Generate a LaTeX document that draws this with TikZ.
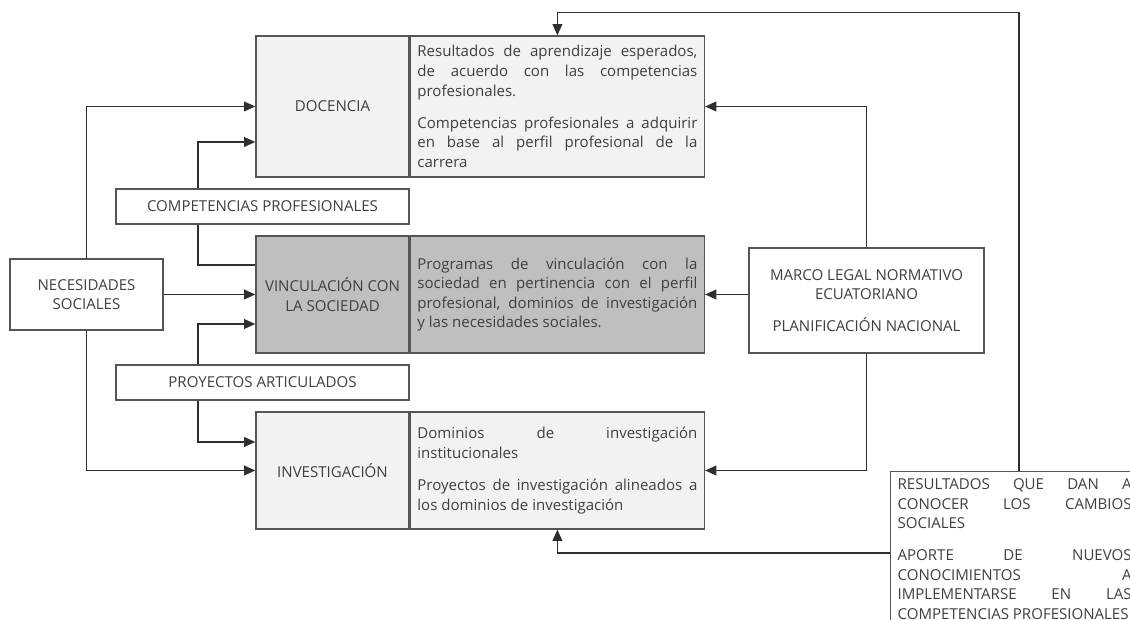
\documentclass[tikz,border=0pt]{standalone}
\usepackage{fontspec}
\setmainfont{Open Sans}
\usetikzlibrary{arrows.meta}
\definecolor{linegray}{HTML}{2F2F2F}
\definecolor{boxgray}{HTML}{555555}
\definecolor{txtgray}{HTML}{3F3F3F}
\definecolor{lightfill}{HTML}{F2F2F2}
\definecolor{darkfill}{HTML}{BFBFBF}
\hyphenpenalty=10000
\exhyphenpenalty=10000
\begin{document}
\begin{tikzpicture}[every node/.style={font=\fontsize{10.7}{13.9}\selectfont,text=txtgray},
  lbox/.style={draw=boxgray,line width=1pt,inner sep=0pt,minimum width=3.825cm,align=center},
  rbox/.style={draw=boxgray,line width=1pt,anchor=west,inner sep=0.175cm,text width=7cm,align=justify},
  cbox/.style={draw=boxgray,line width=0.9pt,fill=white,inner sep=0pt,align=center},
  arr/.style={draw=linegray,line width=0.9pt,-{Triangle[length=8pt,width=7pt]}},
  plain/.style={draw=linegray,line width=0.9pt}]
\useasboundingbox (0,0) rectangle (28.25,15.5);
\clip (0,0) rectangle (28.25,15.5);
% the three blocks
\node[lbox,fill=lightfill,minimum height=3.525cm] (docl) at (8.3125,12.8375) {DOCENCIA};
\node[rbox,fill=lightfill,minimum height=3.525cm] (docr) at (docl.east) {Resultados de aprendizaje esperados,\linebreak de acuerdo con las competencias\linebreak profesionales.\\[9pt]Competencias profesionales a adquirir\linebreak en base al perfil profesional de la\linebreak carrera};
\node[lbox,fill=darkfill,minimum height=2.925cm] (vincl) at (8.3125,8.1375) {VINCULACIÓN CON\\LA SOCIEDAD};
\node[rbox,fill=darkfill,minimum height=2.925cm] (vincr) at (vincl.east) {Programas de vinculación con la\linebreak sociedad en pertinencia con el perfil\linebreak profesional, dominios de investigación\linebreak y las necesidades sociales.};
\node[lbox,fill=lightfill,minimum height=2.925cm] (invl) at (8.3125,3.7375) {INVESTIGACIÓN};
\node[rbox,fill=lightfill,minimum height=2.925cm] (invr) at (invl.east) {Dominios de investigación\linebreak institucionales\\[9pt]Proyectos de investigación alineados a\linebreak los dominios de investigación};
% side boxes
\node[cbox,minimum width=7.325cm,minimum height=0.875cm] (comp) at (6.5625,10.3375) {COMPETENCIAS PROFESIONALES};
\node[cbox,minimum width=7.325cm,minimum height=0.875cm] (proy) at (6.5625,5.9375) {PROYECTOS ARTICULADOS};
\node[cbox,minimum width=3.825cm,minimum height=1.775cm] (nec) at (2.1625,8.1375) {NECESIDADES\\SOCIALES};
\node[cbox,minimum width=5.875cm,minimum height=2.625cm] (marco) at (21.6625,7.9875) {MARCO LEGAL NORMATIVO\\ECUATORIANO\\[9pt]PLANIFICACIÓN NACIONAL};
\node[draw=boxgray,line width=0.9pt,fill=white,anchor=north west,inner sep=0.175cm,text width=5.85cm,align=justify] (res) at (22.25,3.725) {RESULTADOS QUE DAN A\linebreak CONOCER LOS CAMBIOS\linebreak SOCIALES\\[9pt]APORTE DE NUEVOS\linebreak CONOCIMIENTOS A\linebreak IMPLEMENTARSE EN LAS\linebreak COMPETENCIAS PROFESIONALES};
% connectors
\draw[arr] (nec.north) |- (docl.west);
\draw[arr] (nec.east) -- (vincl.west);
\draw[arr] (nec.south) |- (invl.west);
\draw[arr] ([xshift=-1.6125cm]comp.north) |- ([yshift=-0.8875cm]docl.west);
\draw[plain] ([xshift=-1.6125cm]comp.south) |- ([yshift=0.7375cm]vincl.west);
\draw[arr] ([xshift=-1.6125cm]proy.north) |- ([yshift=-0.7375cm]vincl.west);
\draw[arr] ([xshift=-1.6125cm]proy.south) |- ([yshift=0.7125cm]invl.west);
\draw[arr] (marco.north) |- (docr.east);
\draw[arr] (marco.west |- vincr.east) -- (vincr.east);
\draw[arr] (marco.south) |- (invr.east);
\draw[arr] ([xshift=3.225cm]res.north west) |- ([yshift=0.575cm]docr.north) -- (docr.north);
\draw[arr] ([yshift=-2.05cm]res.north west) -| (invr.south);
\end{tikzpicture}
\end{document}
